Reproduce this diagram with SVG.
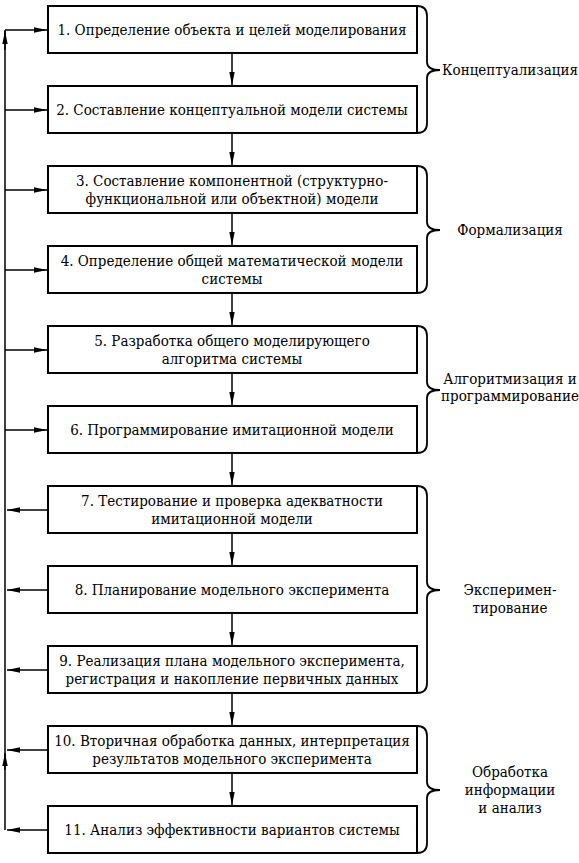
<svg xmlns="http://www.w3.org/2000/svg" width="579" height="863" viewBox="0 0 579 863">
<style>
.box{fill:#fff;stroke:#000;stroke-width:2}
.t{font-family:'DejaVu Serif Condensed','DejaVu Serif',serif;font-stretch:condensed;font-size:15px;fill:#000;text-anchor:middle}
.ln{fill:none;stroke:#000;stroke-width:1.5}
.br{fill:none;stroke:#000;stroke-width:1.8}
</style>
<defs>
<marker id="ah" markerUnits="userSpaceOnUse" markerWidth="14" markerHeight="8" refX="13" refY="3.5" orient="auto">
<path d="M0,0.8 L13,3.5 L0,6.2 Z" fill="#000"/>
</marker>
</defs>
<rect width="579" height="863" fill="#fff"/>
<g id="connectors">
<line class="ln" x1="232" y1="53" x2="232" y2="85" marker-end="url(#ah)"/>
<line class="ln" x1="232" y1="133" x2="232" y2="165" marker-end="url(#ah)"/>
<line class="ln" x1="232" y1="213" x2="232" y2="245" marker-end="url(#ah)"/>
<line class="ln" x1="232" y1="293" x2="232" y2="325" marker-end="url(#ah)"/>
<line class="ln" x1="232" y1="373" x2="232" y2="405" marker-end="url(#ah)"/>
<line class="ln" x1="232" y1="453" x2="232" y2="485" marker-end="url(#ah)"/>
<line class="ln" x1="232" y1="533" x2="232" y2="565" marker-end="url(#ah)"/>
<line class="ln" x1="232" y1="613" x2="232" y2="645" marker-end="url(#ah)"/>
<line class="ln" x1="232" y1="693" x2="232" y2="725" marker-end="url(#ah)"/>
<line class="ln" x1="232" y1="773" x2="232" y2="805" marker-end="url(#ah)"/>
<line class="ln" x1="5" y1="830" x2="5" y2="30"/>
<line class="ln" x1="5" y1="50" x2="5" y2="31" marker-end="url(#ah)"/>
<line class="ln" x1="5" y1="770" x2="5" y2="753" marker-end="url(#ah)"/>
<line class="ln" x1="5" y1="30" x2="47" y2="30" marker-end="url(#ah)"/>
<line class="ln" x1="5" y1="110" x2="47" y2="110" marker-end="url(#ah)"/>
<line class="ln" x1="5" y1="190" x2="47" y2="190" marker-end="url(#ah)"/>
<line class="ln" x1="5" y1="270" x2="47" y2="270" marker-end="url(#ah)"/>
<line class="ln" x1="5" y1="350" x2="47" y2="350" marker-end="url(#ah)"/>
<line class="ln" x1="5" y1="430" x2="47" y2="430" marker-end="url(#ah)"/>
<line class="ln" x1="48" y1="510" x2="7" y2="510" marker-end="url(#ah)"/>
<line class="ln" x1="48" y1="590" x2="7" y2="590" marker-end="url(#ah)"/>
<line class="ln" x1="48" y1="670" x2="7" y2="670" marker-end="url(#ah)"/>
<line class="ln" x1="48" y1="750" x2="7" y2="750" marker-end="url(#ah)"/>
<line class="ln" x1="48" y1="830" x2="7" y2="830" marker-end="url(#ah)"/>
</g>
<g id="n1"><rect class="box" x="48" y="6" width="369" height="47"/><text class="t" x="232" y="35">1. Определение объекта и целей моделирования</text></g>
<g id="n2"><rect class="box" x="48" y="86" width="369" height="47"/><text class="t" x="232" y="115">2. Составление концептуальной модели системы</text></g>
<g id="n3"><rect class="box" x="48" y="166" width="369" height="47"/><text class="t" x="232" y="186">3. Составление компонентной (структурно-</text><text class="t" x="232" y="204">функциональной или объектной) модели</text></g>
<g id="n4"><rect class="box" x="48" y="246" width="369" height="47"/><text class="t" x="232" y="266">4. Определение общей математической модели</text><text class="t" x="232" y="284">системы</text></g>
<g id="n5"><rect class="box" x="48" y="326" width="369" height="47"/><text class="t" x="232" y="346">5. Разработка общего моделирующего</text><text class="t" x="232" y="364">алгоритма системы</text></g>
<g id="n6"><rect class="box" x="48" y="406" width="369" height="47"/><text class="t" x="232" y="435">6. Программирование имитационной модели</text></g>
<g id="n7"><rect class="box" x="48" y="486" width="369" height="47"/><text class="t" x="232" y="506">7. Тестирование и проверка адекватности</text><text class="t" x="232" y="524">имитационной модели</text></g>
<g id="n8"><rect class="box" x="48" y="566" width="369" height="47"/><text class="t" x="232" y="595">8. Планирование модельного эксперимента</text></g>
<g id="n9"><rect class="box" x="48" y="646" width="369" height="47"/><text class="t" x="232" y="666">9. Реализация плана модельного эксперимента,</text><text class="t" x="232" y="684">регистрация и накопление первичных данных</text></g>
<g id="n10"><rect class="box" x="48" y="726" width="369" height="47"/><text class="t" x="232" y="746">10. Вторичная обработка данных, интерпретация</text><text class="t" x="232" y="764">результатов модельного эксперимента</text></g>
<g id="n11"><rect class="box" x="48" y="806" width="369" height="47"/><text class="t" x="232" y="835">11. Анализ эффективности вариантов системы</text></g>
<g id="g1"><path class="br" d="M417,6 Q427,6 427,16 L427,62 Q427,70 440,70 Q427,70 427,78 L427,123 Q427,133 417,133"/><text class="t" x="510" y="75">Концептуализация</text></g>
<g id="g2"><path class="br" d="M417,166 Q427,166 427,176 L427,222 Q427,230 440,230 Q427,230 427,238 L427,283 Q427,293 417,293"/><text class="t" x="510" y="235">Формализация</text></g>
<g id="g3"><path class="br" d="M417,326 Q427,326 427,336 L427,382 Q427,390 440,390 Q427,390 427,398 L427,443 Q427,453 417,453"/><text class="t" x="510" y="384">Алгоритмизация и</text><text class="t" x="510" y="401">программирование</text></g>
<g id="g4"><path class="br" d="M417,486 Q427,486 427,496 L427,582 Q427,590 440,590 Q427,590 427,598 L427,683 Q427,693 417,693"/><text class="t" x="510" y="595">Эксперимен-</text><text class="t" x="510" y="613">тирование</text></g>
<g id="g5"><path class="br" d="M417,726 Q427,726 427,736 L427,782 Q427,790 440,790 Q427,790 427,798 L427,843 Q427,853 417,853"/><text class="t" x="510" y="777">Обработка</text><text class="t" x="510" y="795">информации</text><text class="t" x="510" y="813">и анализ</text></g>
</svg>
